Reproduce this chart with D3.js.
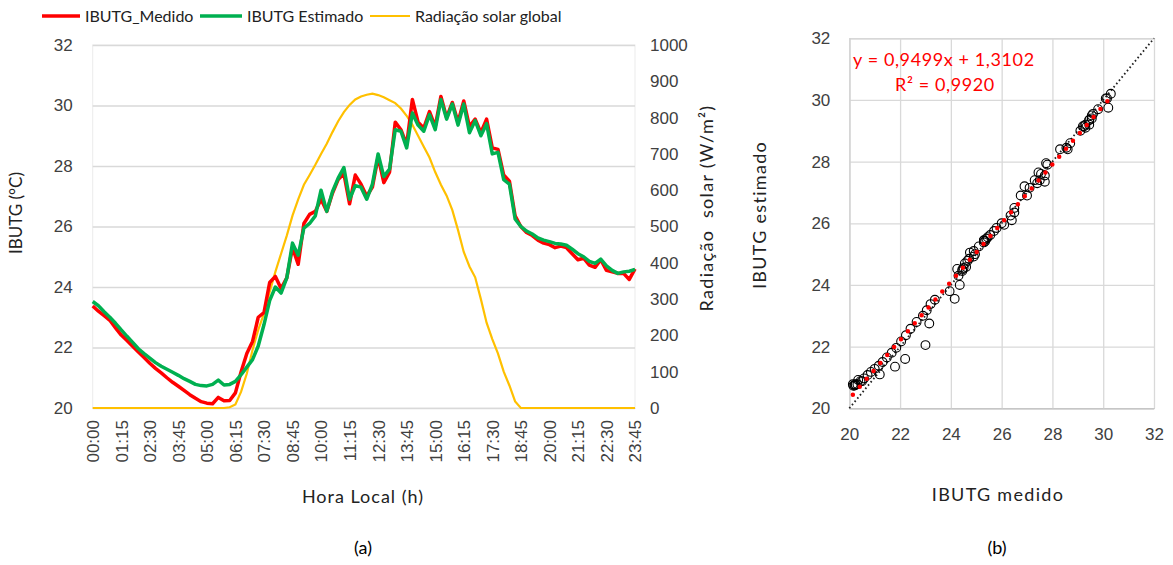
<!DOCTYPE html>
<html>
<head>
<meta charset="utf-8">
<script src="https://cdn.jsdelivr.net/npm/d3@7"></script>
<style>
  body { margin: 0; background: #fff; }
  svg { font-family: Lato, "Open Sans", sans-serif; }
</style>
</head>
<body>
<div id="chart"></div>
<script>
// Time of day, every 15 min
const times = d3.range(96).map(i => d3.timeFormat("%H:%M")(new Date(2000, 0, 1, 0, i * 15)));

// Tick labels shown on the time axis
const timeTicks = ["00:00", "01:15", "02:30", "03:45", "05:00", "06:15", "07:30", "08:45", "10:00", "11:15",
  "12:30", "13:45", "15:00", "16:15", "17:30", "18:45", "20:00", "21:15", "22:30", "23:45"];

// IBUTG measured (°C)
const medido = [
  23.37, 23.20, 23.05, 22.90, 22.65, 22.41, 22.23, 22.04, 21.85, 21.67, 21.48, 21.31,
  21.16, 21.00, 20.85, 20.72, 20.58, 20.44, 20.32, 20.21, 20.16, 20.14, 20.35, 20.24,
  20.25, 20.50, 21.20, 21.80, 22.20, 23.00, 23.15, 24.15, 24.35, 23.95, 24.30, 25.30,
  24.75, 26.10, 26.40, 26.50, 26.90, 26.50, 27.10, 27.55, 27.75, 26.75, 27.70, 27.40,
  27.00, 27.30, 28.30, 27.45, 27.80, 29.45, 29.20, 28.70, 30.20, 29.45, 29.25, 29.80,
  29.30, 30.30, 29.60, 30.10, 29.45, 30.15, 29.30, 29.55, 29.10, 29.55, 28.60, 28.55,
  27.70, 27.50, 26.35, 26.00, 25.80, 25.70, 25.55, 25.45, 25.40, 25.30, 25.35, 25.30,
  25.10, 24.90, 24.95, 24.72, 24.65, 24.90, 24.55, 24.50, 24.45, 24.45, 24.25, 24.60
];

// IBUTG estimated (°C)
const estimado = [
  23.52, 23.38, 23.18, 23.00, 22.80, 22.58, 22.37, 22.17, 21.96, 21.80, 21.65, 21.50,
  21.38, 21.28, 21.18, 21.08, 20.97, 20.88, 20.78, 20.74, 20.73, 20.78, 20.92, 20.76,
  20.78, 20.88, 21.10, 21.35, 21.60, 22.05, 22.75, 23.55, 24.00, 23.80, 24.30, 25.45,
  25.05, 25.95, 26.10, 26.35, 27.20, 26.50, 27.15, 27.60, 27.95, 26.90, 27.35, 27.30,
  26.90, 27.40, 28.40, 27.65, 27.90, 29.20, 29.15, 28.60, 29.75, 29.35, 29.15, 29.70,
  29.20, 30.20, 29.55, 30.05, 29.35, 30.05, 29.10, 29.50, 29.00, 29.40, 28.40, 28.45,
  27.55, 27.40, 26.25, 26.00, 25.85, 25.75, 25.62, 25.55, 25.50, 25.44, 25.42, 25.38,
  25.25, 25.10, 25.00, 24.85, 24.78, 24.92, 24.70, 24.55, 24.45, 24.50, 24.52, 24.58
];

// Global solar radiation (W/m²)
const radiacao = [
  0, 0, 0, 0, 0, 0, 0, 0, 0, 0, 0, 0,
  0, 0, 0, 0, 0, 0, 0, 0, 0, 0, 0, 0,
  2, 10, 45, 95, 160, 215, 260, 320, 375, 425, 475, 530,
  575, 615, 642, 670, 700, 728, 760, 790, 815, 835, 850, 858,
  863, 866, 862, 856, 848, 840, 825, 805, 780, 750, 720, 690,
  650, 615, 585, 545, 490, 430, 390, 360, 300, 235, 190, 150,
  100, 62, 18, 0, 0, 0, 0, 0, 0, 0, 0, 0,
  0, 0, 0, 0, 0, 0, 0, 0, 0, 0, 0, 0
];

// Trendline reported on the scatter plot
const slope = 0.9499;
const intercept = 1.3102;
const r2 = 0.9920;

const tempTicks = [20, 22, 24, 26, 28, 30, 32];
const radTicks = [0, 100, 200, 300, 400, 500, 600, 700, 800, 900, 1000];

const fmt = d3.format(".4f");
const ptBr = v => fmt(v).replace(".", ",");

const width = 1173, height = 565;
const svg = d3.select("#chart").append("svg")
  .attr("width", width)
  .attr("height", height);

const textColor = "#404040";
const gridColor = "#d9d9d9";

// ---------- (a) time series ----------
const ax0 = 92.7, ax1 = 635, ayTop = 45, ayBot = 408;

const x = d3.scalePoint().domain(times).range([ax0, ax1]);
const yT = d3.scaleLinear().domain([20, 32]).range([ayBot, ayTop]);
const yR = d3.scaleLinear().domain([0, 1000]).range([ayBot, ayTop]);

const ga = svg.append("g");

// plot frame + gridlines
ga.append("rect")
  .attr("x", ax0).attr("y", ayTop)
  .attr("width", ax1 - ax0).attr("height", ayBot - ayTop)
  .attr("fill", "none").attr("stroke", "#ebebeb");

ga.append("g")
  .attr("transform", `translate(${ax0},0)`)
  .call(d3.axisLeft(yT).tickValues(tempTicks).tickSize(-(ax1 - ax0)).tickFormat(d3.format("d")).tickPadding(20))
  .call(g => g.select(".domain").remove())
  .call(g => g.selectAll("line").attr("stroke", gridColor).attr("stroke-width", 1.3))
  .call(g => g.selectAll("text").attr("fill", textColor).style("font-size", "17px"));

ga.append("g")
  .attr("transform", `translate(${ax1},0)`)
  .call(d3.axisRight(yR).tickValues(radTicks).tickSize(0).tickPadding(15).tickFormat(d3.format("d")))
  .call(g => g.select(".domain").remove())
  .call(g => g.selectAll("text").attr("fill", textColor).style("font-size", "17px"));

ga.append("g")
  .attr("transform", `translate(0,${ayBot})`)
  .call(d3.axisBottom(x).tickValues(timeTicks).tickSize(0))
  .call(g => g.select(".domain").attr("stroke", gridColor))
  .call(g => g.selectAll("text")
    .attr("transform", "rotate(-90)")
    .attr("x", -12).attr("y", 0).attr("dy", "0.35em")
    .style("text-anchor", "end")
    .attr("fill", textColor).style("font-size", "17px"));

const lineT = arr => d3.line().x((d, i) => x(times[i])).y(d => yT(d))(arr);
const lineR = d3.line().x((d, i) => x(times[i])).y(d => yR(d));

ga.append("path").attr("d", lineR(radiacao))
  .attr("fill", "none").attr("stroke", "#ffc000").attr("stroke-width", 2.2);
ga.append("path").attr("d", lineT(medido))
  .attr("fill", "none").attr("stroke", "#ff0000").attr("stroke-width", 3.5).attr("stroke-linejoin", "round");
ga.append("path").attr("d", lineT(estimado))
  .attr("fill", "none").attr("stroke", "#00b050").attr("stroke-width", 3.5).attr("stroke-linejoin", "round");

// axis titles
ga.append("text")
  .attr("transform", "translate(22,213) rotate(-90)")
  .attr("text-anchor", "middle").attr("fill", "#222").style("font-size", "17px")
  .text("IBUTG (°C)");
ga.append("text")
  .attr("transform", "translate(713,208) rotate(-90)")
  .attr("text-anchor", "middle").attr("fill", "#222")
  .style("font-size", "18px").style("letter-spacing", "1.3px").style("white-space", "pre")
  .text("Radiação  solar (W/m²)");
ga.append("text")
  .attr("x", 363).attr("y", 503)
  .attr("text-anchor", "middle").attr("fill", "#222")
  .style("font-size", "18px").style("letter-spacing", "1px")
  .text("Hora Local (h)");
ga.append("text")
  .attr("x", 363).attr("y", 554)
  .attr("text-anchor", "middle").attr("fill", "#000").style("font-size", "18px")
  .text("(a)");

// legend
const legend = [
  { name: "IBUTG_Medido", color: "#ff0000", w: 3.5, x: 42, len: 38 },
  { name: "IBUTG Estimado", color: "#00b050", w: 3.5, x: 200, len: 42 },
  { name: "Radiação solar global", color: "#ffc000", w: 2.2, x: 370, len: 40 }
];
const lg = ga.append("g").selectAll("g").data(legend).join("g")
  .attr("transform", d => `translate(${d.x},16)`);
lg.append("line").attr("x1", 0).attr("x2", d => d.len)
  .attr("stroke", d => d.color).attr("stroke-width", d => d.w);
lg.append("text").attr("x", d => d.len + 5).attr("dy", "0.35em")
  .attr("fill", "#222").style("font-size", "16px")
  .text(d => d.name);

// ---------- (b) scatter ----------
const bx0 = 849.3, bx1 = 1154, byTop = 38.3, byBot = 408.3;
const sx = d3.scaleLinear().domain([20, 32]).range([bx0, bx1]);
const sy = d3.scaleLinear().domain([20, 32]).range([byBot, byTop]);

const gb = svg.append("g");

gb.append("g")
  .attr("transform", `translate(${bx0},0)`)
  .call(d3.axisLeft(sy).tickValues(tempTicks).tickSize(-(bx1 - bx0)).tickPadding(19).tickFormat(d3.format("d")))
  .call(g => g.select(".domain").attr("stroke", "#bfbfbf"))
  .call(g => g.selectAll("line").attr("stroke", gridColor).attr("stroke-width", 1.3))
  .call(g => g.selectAll("text").attr("fill", textColor).style("font-size", "17px"));

gb.append("g")
  .attr("transform", `translate(0,${byBot})`)
  .call(d3.axisBottom(sx).tickValues(tempTicks).tickSize(-(byBot - byTop)).tickPadding(20).tickFormat(d3.format("d")))
  .call(g => g.select(".domain").attr("stroke", "#bfbfbf"))
  .call(g => g.selectAll("line").attr("stroke", gridColor).attr("stroke-width", 1.3))
  .call(g => g.selectAll("text").attr("fill", textColor).style("font-size", "17px"));

// 1:1 reference line
gb.append("line")
  .attr("x1", sx(20)).attr("y1", sy(20)).attr("x2", sx(32)).attr("y2", sy(32))
  .attr("stroke", "#222").attr("stroke-width", 1.8).attr("stroke-dasharray", "1.6 2.6");

const pts = medido.map((m, i) => [m, estimado[i]]);
gb.append("g").selectAll("circle").data(pts).join("circle")
  .attr("cx", d => sx(d[0])).attr("cy", d => sy(d[1])).attr("r", 4.4)
  .attr("fill", "none").attr("stroke", "#000").attr("stroke-width", 1.1);

// linear trendline (red round dots)
const [mMin, mMax] = d3.extent(medido);
gb.append("line")
  .attr("x1", sx(mMin)).attr("y1", sy(slope * mMin + intercept))
  .attr("x2", sx(mMax)).attr("y2", sy(slope * mMax + intercept))
  .attr("stroke", "#ff0000").attr("stroke-width", 4.5)
  .attr("stroke-linecap", "round").attr("stroke-dasharray", "0 10.5");

gb.append("text")
  .attr("x", 853).attr("y", 66)
  .attr("fill", "#ff0000").style("font-size", "18px").style("letter-spacing", "0.6px")
  .text(`y = ${ptBr(slope)}x + ${ptBr(intercept)}`);
gb.append("text")
  .attr("x", 945).attr("y", 91)
  .attr("text-anchor", "middle")
  .attr("fill", "#ff0000").style("font-size", "18px").style("letter-spacing", "0.6px")
  .text(`R² = ${ptBr(r2)}`);

gb.append("text")
  .attr("transform", "translate(766,215) rotate(-90)")
  .attr("text-anchor", "middle").attr("fill", "#222")
  .style("font-size", "18px").style("letter-spacing", "1.3px")
  .text("IBUTG estimado");
gb.append("text")
  .attr("x", 998).attr("y", 501)
  .attr("text-anchor", "middle").attr("fill", "#222")
  .style("font-size", "18px").style("letter-spacing", "1.3px")
  .text("IBUTG medido");
gb.append("text")
  .attr("x", 997).attr("y", 554)
  .attr("text-anchor", "middle").attr("fill", "#000").style("font-size", "18px")
  .text("(b)");
</script>
</body>
</html>
